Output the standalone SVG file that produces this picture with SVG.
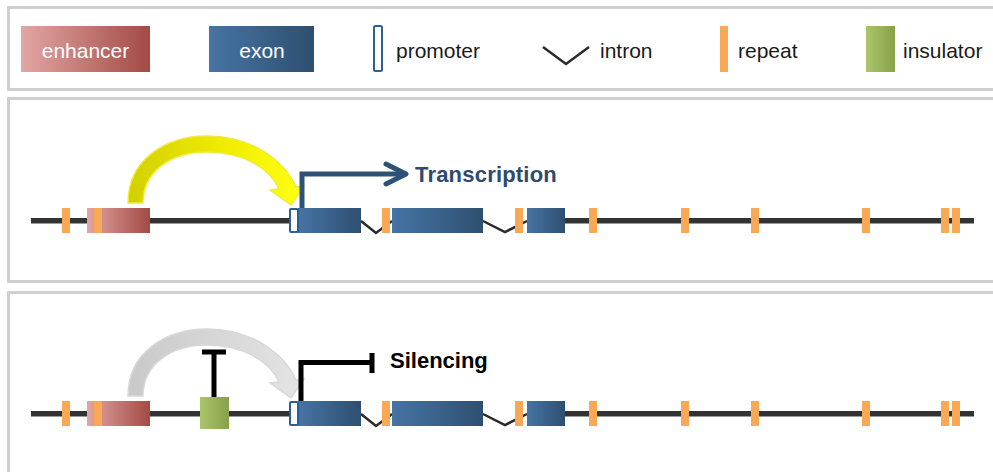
<svg xmlns="http://www.w3.org/2000/svg" width="993" height="472" viewBox="0 0 993 472">
  <defs>
    <linearGradient id="gEnh" x1="0" y1="0" x2="1" y2="0">
      <stop offset="0" stop-color="#e2a6a4"/>
      <stop offset="1" stop-color="#a34a44"/>
    </linearGradient>
    <linearGradient id="gExon" x1="0" y1="0" x2="1" y2="0">
      <stop offset="0" stop-color="#4674a4"/>
      <stop offset="1" stop-color="#2e4f70"/>
    </linearGradient>
    <linearGradient id="gIns" x1="0" y1="0" x2="1" y2="0">
      <stop offset="0" stop-color="#acc56c"/>
      <stop offset="1" stop-color="#86a14a"/>
    </linearGradient>
    <linearGradient id="gYellow" x1="128" y1="0" x2="303" y2="0" gradientUnits="userSpaceOnUse">
      <stop offset="0" stop-color="#d2cf00"/>
      <stop offset="0.5" stop-color="#eeea00"/>
      <stop offset="1" stop-color="#ffff10"/>
    </linearGradient>
    <linearGradient id="gGray" x1="128" y1="0" x2="303" y2="0" gradientUnits="userSpaceOnUse">
      <stop offset="0" stop-color="#c9c9c9"/>
      <stop offset="1" stop-color="#e4e4e4"/>
    </linearGradient>
    <!-- curved enhancer-to-promoter arrow -->
    <path id="loopArrow" d="M128,203 C128,160 165,136 207,136 C251,136 284,160 296,187 L304,186 L291,205 L270,190 L279,189 C270,168 243,152 207,152 C170,152 143,172 143,203 Z"/>
    <!-- shared gene locus: line, enhancer, promoter, exons, introns, repeats -->
    <g id="locus">
      <path d="M31,222 H298 M565,222 H974" stroke="#9a9a9a" stroke-width="4"/>
      <path d="M31,220.5 H298 M565,220.5 H974" stroke="#333" stroke-width="5"/>
      <path class="intron" d="M361,221 L376,233 L392,221"/>
      <path class="intron" d="M483,221 L505,232 L527,221"/>
      <rect x="87" y="208" width="63" height="25" fill="url(#gEnh)"/>
      <rect x="298" y="208" width="63" height="25" fill="url(#gExon)"/>
      <rect x="392" y="208" width="91" height="25" fill="url(#gExon)"/>
      <rect x="527" y="208" width="38" height="25" fill="url(#gExon)"/>
      <rect x="290" y="209" width="8" height="23" rx="1" class="prom"/>
      <g class="rep">
        <rect x="62" y="208" width="8" height="25"/>
        <rect x="94" y="208" width="8" height="25"/>
        <rect x="382" y="208" width="8" height="25"/>
        <rect x="515" y="208" width="8" height="25"/>
        <rect x="589" y="208" width="8" height="25"/>
        <rect x="681" y="208" width="8" height="25"/>
        <rect x="751" y="208" width="8" height="25"/>
        <rect x="862" y="208" width="8" height="25"/>
        <rect x="941" y="208" width="8" height="25"/>
        <rect x="952" y="208" width="8" height="25"/>
      </g>
    </g>
  </defs>
  <style>
    .panel { fill: #ffffff; stroke: #cfcfcf; stroke-width: 3; }
    .lbl { font-family: "Liberation Sans", Arial, sans-serif; font-size: 21px; fill: #1a1a1a; }
    .lblw { font-family: "Liberation Sans", Arial, sans-serif; font-size: 21px; fill: #ffffff; text-anchor: middle; }
    .big { font-family: "Liberation Sans", Arial, sans-serif; font-size: 22px; font-weight: bold; }
    .rep rect, rect.rep { fill: #f9a855; }
    .prom { fill: #ffffff; stroke: #2e5f94; stroke-width: 2; }
    .intron { fill: none; stroke: #2a2a2a; stroke-width: 2.5; }
  </style>

  <rect width="993" height="472" fill="#ffffff"/>

  <!-- panels -->
  <rect class="panel" x="8.5" y="7.5" width="1000" height="82"/>
  <rect class="panel" x="8.5" y="98.5" width="1000" height="183"/>
  <rect class="panel" x="8.5" y="292.5" width="1000" height="200"/>

  <!-- legend -->
  <g id="legend">
    <g id="legend-enhancer">
      <rect x="21" y="26" width="129" height="46" fill="url(#gEnh)"/>
      <text class="lblw" x="85.5" y="58">enhancer</text>
    </g>
    <g id="legend-exon">
      <rect x="209" y="26" width="105" height="46" fill="url(#gExon)"/>
      <text class="lblw" x="262" y="58">exon</text>
    </g>
    <g id="legend-promoter">
      <rect x="374" y="26" width="8" height="45" rx="1.5" class="prom"/>
      <text class="lbl" x="396" y="58">promoter</text>
    </g>
    <g id="legend-intron">
      <path class="intron" d="M543,47 L566,64 L589,47"/>
      <text class="lbl" x="600" y="58">intron</text>
    </g>
    <g id="legend-repeat">
      <rect class="rep" x="720" y="26" width="8" height="46"/>
      <text class="lbl" x="738" y="58">repeat</text>
    </g>
    <g id="legend-insulator">
      <rect x="866" y="26" width="29" height="46" fill="url(#gIns)"/>
      <text class="lbl" x="903" y="58">insulator</text>
    </g>
  </g>

  <!-- active locus -->
  <g id="active">
    <g id="active-locus"><use href="#locus"/></g>
    <g id="active-connectors">
      <use href="#loopArrow" fill="url(#gYellow)" stroke="#f2ea3a" stroke-width="1.5"/>
      <path d="M302,208 V174 H405" fill="none" stroke="#2e5276" stroke-width="5"/>
      <path d="M386,164 L406,174 L386,184" fill="none" stroke="#2e5276" stroke-width="5" stroke-linecap="round" stroke-linejoin="round"/>
    </g>
    <text class="big" x="415" y="182" fill="#2e4a6e" letter-spacing="0.2">Transcription</text>
  </g>

  <!-- silenced locus -->
  <g id="silenced">
    <g id="silenced-locus"><use href="#locus" y="193"/></g>
    <g id="insulator">
      <rect x="200" y="397" width="29" height="32" fill="url(#gIns)"/>
    </g>
    <g id="silenced-connectors">
      <use href="#loopArrow" y="193" fill="url(#gGray)" stroke="#d8d8d8" stroke-width="1.5"/>
      <path d="M214,397 V352 M202,352 H226" fill="none" stroke="#000" stroke-width="5"/>
      <path d="M301,401 V362.5 H372 M372,353 V373" fill="none" stroke="#000" stroke-width="5"/>
    </g>
    <text class="big" x="390" y="368" fill="#000">Silencing</text>
  </g>
</svg>
